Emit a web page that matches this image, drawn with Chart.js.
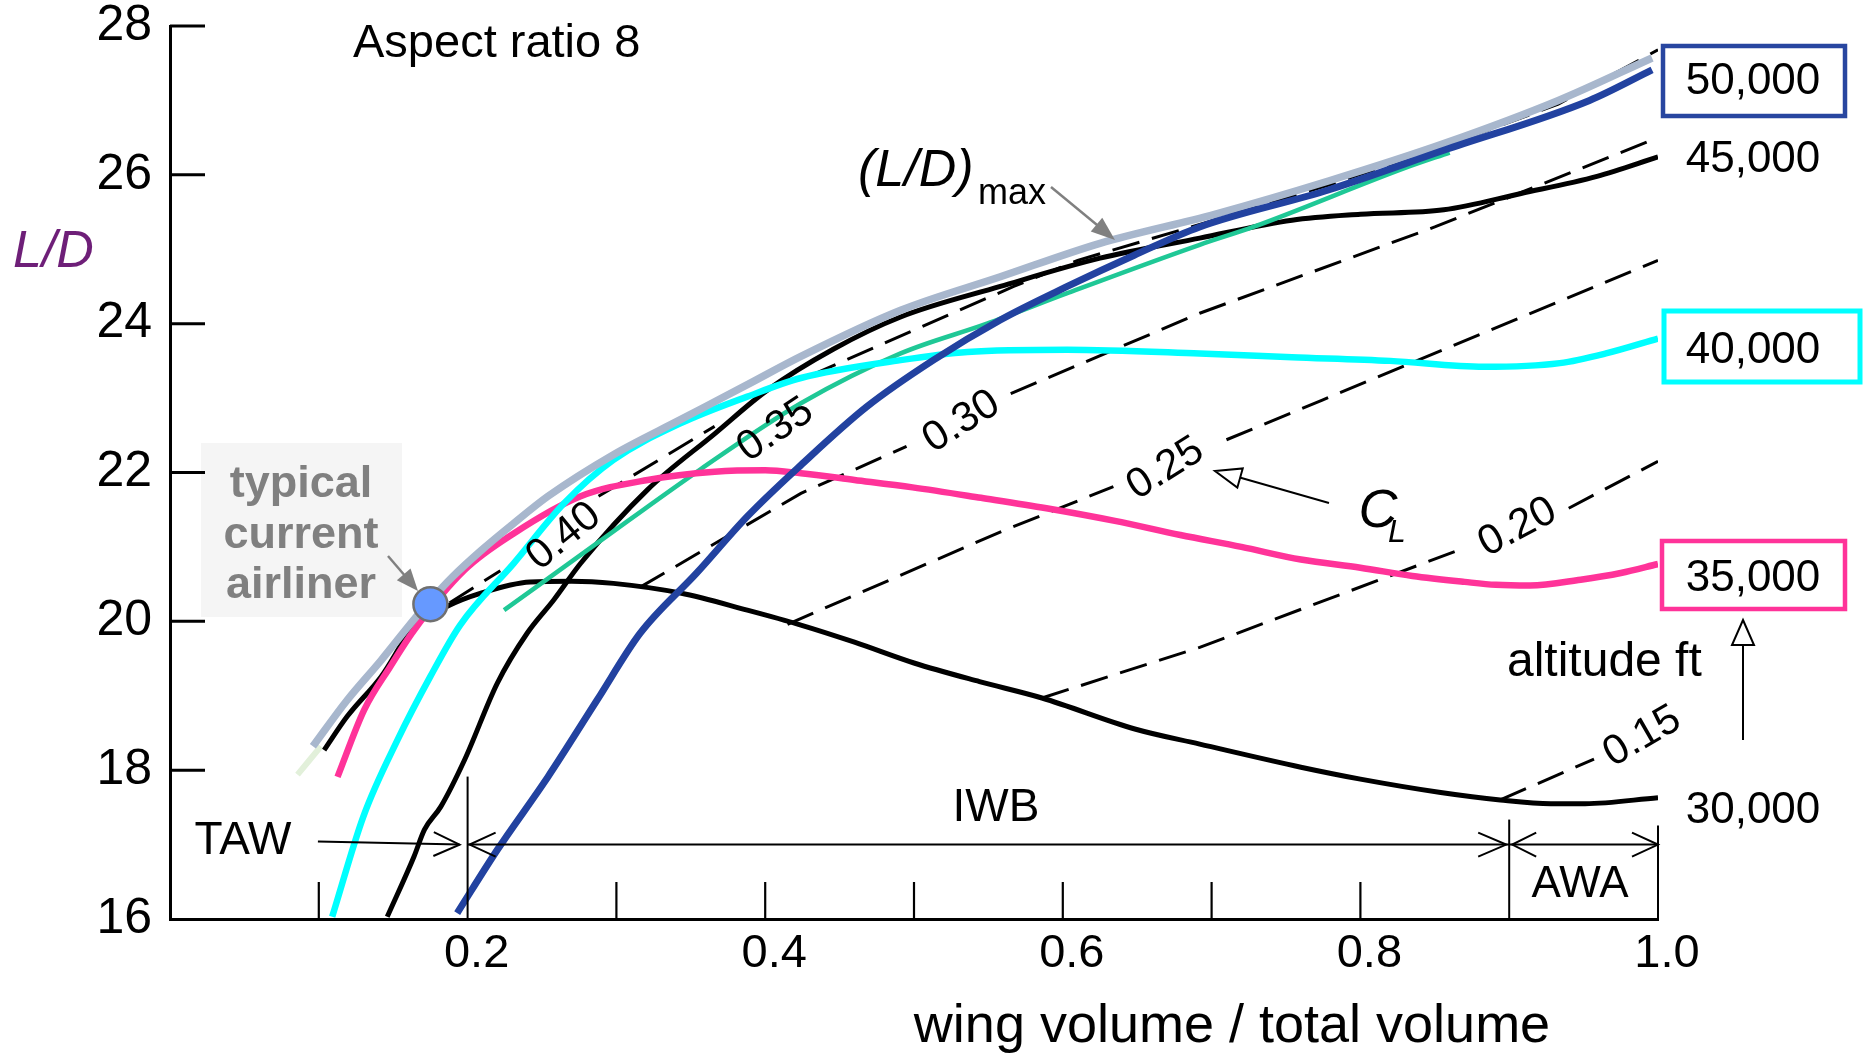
<!DOCTYPE html>
<html>
<head>
<meta charset="utf-8">
<script src="https://cdn.jsdelivr.net/npm/chart.js@4.4.1/dist/chart.umd.min.js"></script>
<style>
  html, body { margin: 0; padding: 0; background: #fff; }
  canvas { display: block; }
</style>
</head>
<body>
<canvas id="ldChart" width="1864" height="1057"></canvas>
<script>
/* --------------- Data (x = wing volume / total volume, y = L/D) --------------- */
const envX = [0.096, 0.119, 0.142, 0.165, 0.175, 0.19, 0.209, 0.23, 0.254, 0.298, 0.343, 0.388, 0.424, 0.491, 0.558, 0.625, 0.702, 0.779, 0.856, 0.933, 0.996];
const envY = [18.32, 18.94, 19.48, 20.05, 20.28, 20.6, 20.95, 21.3, 21.68, 22.24, 22.71, 23.18, 23.56, 24.18, 24.63, 25.08, 25.47, 25.92, 26.42, 27.0, 27.57];

const tailX = [0.0857, 0.1014];
const tailY = [17.94, 18.32];

const alt30X = [0.1036, 0.119, 0.142, 0.164, 0.186, 0.209, 0.242, 0.27, 0.298, 0.343, 0.388, 0.424, 0.46, 0.5, 0.544, 0.586, 0.649, 0.692, 0.76, 0.8, 0.854, 0.894, 0.928, 0.951, 1.0];
const alt30Y = [18.27, 18.72, 19.26, 19.93, 20.2, 20.38, 20.53, 20.54, 20.51, 20.38, 20.15, 19.95, 19.72, 19.44, 19.19, 18.97, 18.55, 18.35, 18.04, 17.88, 17.7, 17.6, 17.55, 17.55, 17.63];

const alt35X = [0.1126, 0.1305, 0.148, 0.164, 0.198, 0.231, 0.276, 0.321, 0.366, 0.4, 0.424, 0.46, 0.499, 0.545, 0.589, 0.635, 0.679, 0.72, 0.76, 0.8, 0.835, 0.87, 0.891, 0.914, 0.948, 0.975, 1.0];
const alt35Y = [17.91, 18.81, 19.39, 19.88, 20.69, 21.18, 21.68, 21.9, 22.01, 22.03, 21.99, 21.9, 21.8, 21.66, 21.52, 21.35, 21.16, 21.0, 20.83, 20.72, 20.61, 20.53, 20.49, 20.48, 20.56, 20.65, 20.77];

const alt40X = [0.109, 0.13, 0.153, 0.175, 0.195, 0.231, 0.265, 0.298, 0.343, 0.388, 0.424, 0.491, 0.536, 0.603, 0.692, 0.754, 0.82, 0.883, 0.934, 0.965, 1.0];
const alt40Y = [16.03, 17.38, 18.41, 19.26, 19.95, 20.78, 21.59, 22.17, 22.66, 23.02, 23.27, 23.51, 23.62, 23.65, 23.6, 23.55, 23.5, 23.42, 23.47, 23.6, 23.8];

const alt45X = [0.146, 0.164, 0.171, 0.182, 0.198, 0.22, 0.24, 0.258, 0.276, 0.321, 0.366, 0.401, 0.446, 0.491, 0.558, 0.625, 0.692, 0.754, 0.8, 0.856, 0.908, 0.959, 1.0];
const alt45Y = [16.03, 16.84, 17.2, 17.51, 18.14, 19.17, 19.84, 20.29, 20.78, 21.77, 22.52, 23.1, 23.66, 24.09, 24.5, 24.88, 25.15, 25.39, 25.47, 25.53, 25.75, 25.98, 26.24];

const alt50X = [0.193, 0.22, 0.254, 0.287, 0.316, 0.354, 0.388, 0.424, 0.468, 0.513, 0.558, 0.603, 0.648, 0.692, 0.779, 0.856, 0.954, 0.996];
const alt50Y = [16.08, 16.93, 17.91, 18.94, 19.84, 20.65, 21.41, 22.1, 22.88, 23.51, 24.05, 24.5, 24.92, 25.3, 25.8, 26.33, 27.0, 27.41];

const greenX = [0.2245, 0.287, 0.357, 0.424, 0.491, 0.549, 0.603, 0.692, 0.728, 0.831, 0.86];
const greenY = [20.15, 21.05, 22.05, 22.93, 23.6, 24.0, 24.41, 25.06, 25.3, 26.1, 26.3];

// constant C_L lines (null = gap left for the label)
const cl40X = [0.188, 0.222, 0.25, 0.288, 0.366];
const cl40Y = [20.25, 20.68, null, 21.68, 22.62];
const cl35X = [0.43, 0.567, 0.61, 0.7, 0.78, 0.856, 0.933, 1.0];
const cl35Y = [23.3, 24.5, 24.85, 25.38, 25.87, 26.38, 26.95, 27.68];
const cl30X = [0.316, 0.424, 0.495, 0.53, 0.565, 0.692, 0.85, 1.0];
const cl30Y = [20.46, 21.72, 22.35, null, 23.06, 24.14, 25.3, 26.5];
const cl25X = [0.415, 0.559, 0.634, 0.67, 0.71, 0.774, 1.0];
const cl25Y = [19.96, 21.21, 21.81, null, 22.44, 22.97, 24.85];
const cl20X = [0.586, 0.692, 0.869, 0.9, 0.94, 1.0];
const cl20Y = [18.97, 19.65, 20.98, null, 21.52, 22.15];
const cl15X = [0.894, 0.957];
const cl15Y = [17.6, 18.15];

const airlinerX = [0.175];
const airlinerY = [20.23];

const clLabels = ["0.40", "0.35", "0.30", "0.25", "0.20", "0.15"];
const clLabelX = [0.2647, 0.407, 0.532, 0.669, 0.9057, 0.9895];
const clLabelY = [21.14, 22.57, 22.68, 22.05, 21.26, 18.45];
const clLabelAngle = [39, 34, 32, 32, 28, 30];

/* --------------- Helpers --------------- */
const FONT = "'Liberation Sans', Arial, sans-serif";
const pts = (xs, ys) => xs.map((x, i) => ({ x: x, y: ys[i] }));

const curve = (xs, ys, color, width, order) => ({
  data: pts(xs, ys),
  borderColor: color,
  borderWidth: width,
  cubicInterpolationMode: "monotone",
  pointRadius: 0,
  fill: false,
  order: order,
});

const dashed = (xs, ys) => ({
  data: pts(xs, ys),
  borderColor: "#000",
  borderWidth: 3,
  borderDash: [28, 13],
  tension: 0,
  spanGaps: false,
  pointRadius: 0,
  fill: false,
  order: 20,
});

function line(c, x1, y1, x2, y2) {
  c.beginPath();
  c.moveTo(x1, y1);
  c.lineTo(x2, y2);
  c.stroke();
}

// arrow head at (x2,y2) pointing away from (x1,y1)
function head(c, x1, y1, x2, y2, len, half, mode) {
  const a = Math.atan2(y2 - y1, x2 - x1);
  const bx = x2 - len * Math.cos(a), by = y2 - len * Math.sin(a);
  const px = -Math.sin(a) * half, py = Math.cos(a) * half;
  c.beginPath();
  if (mode === "open") {
    c.moveTo(bx + px, by + py);
    c.lineTo(x2, y2);
    c.lineTo(bx - px, by - py);
    c.stroke();
    return;
  }
  c.moveTo(x2, y2);
  c.lineTo(bx + px, by + py);
  c.lineTo(bx - px, by - py);
  c.closePath();
  if (mode === "hollow") {
    c.fillStyle = "#fff";
    c.fill();
    c.stroke();
  } else {
    c.fill();
  }
}

function text(c, str, x, y, font, color, align) {
  c.font = font;
  c.fillStyle = color || "#000";
  c.textAlign = align || "left";
  c.textBaseline = "alphabetic";
  c.fillText(str, x, y);
}

/* --------------- Annotations --------------- */
const annotate = {
  id: "annotate",
  beforeDatasetsDraw(chart) {
    const c = chart.ctx;
    c.save();
    c.fillStyle = "#f5f5f5";
    c.fillRect(201, 443, 201, 174);
    c.restore();
  },
  afterDraw(chart) {
    const c = chart.ctx;
    const X = v => chart.scales.x.getPixelForValue(v);
    const Y = v => chart.scales.y.getPixelForValue(v);
    const x0 = X(0), yb = Y(16);
    c.save();
    c.strokeStyle = "#000";
    c.lineCap = "butt";

    // inside ticks on the L/D axis
    c.lineWidth = 3;
    [18, 20, 22, 24, 26, 28].forEach(v => line(c, x0, Y(v), x0 + 35, Y(v)));

    // inside ticks on the volume axis
    c.lineWidth = 2.2;
    [0.1, 0.3, 0.4, 0.5, 0.6, 0.7, 0.8].forEach(v => line(c, X(v), yb, X(v), yb - 37));

    // TAW / IWB / AWA dimension lines
    const yd = Y(17);
    c.lineWidth = 2;
    line(c, X(0.2), yb, X(0.2), yd - 68);
    line(c, X(0.9), yb, X(0.9), yd - 25);
    line(c, X(1.0), yb, X(1.0), yd - 19);
    line(c, X(0.0994), yd - 3, X(0.2) - 8, yd);
    head(c, X(0.0994), yd - 3, X(0.2) - 8, yd, 26, 12, "open");
    line(c, X(0.2), yd, X(0.9), yd);
    head(c, X(0.9), yd, X(0.2) + 2, yd, 26, 12, "open");
    head(c, X(0.2), yd, X(0.9) - 3, yd, 28, 12, "open");
    line(c, X(0.9), yd, X(1.0), yd);
    head(c, X(1.0), yd, X(0.9) + 3, yd, 24, 12, "open");
    head(c, X(0.9), yd, X(1.0), yd, 26, 12, "open");

    // constant C_L labels
    clLabels.forEach((s, i) => {
      c.save();
      c.translate(X(clLabelX[i]), Y(clLabelY[i]));
      c.rotate(-clLabelAngle[i] * Math.PI / 180);
      c.font = "42px " + FONT;
      c.fillStyle = "#000";
      c.textAlign = "center";
      c.textBaseline = "middle";
      c.fillText(s, 0, 0);
      c.restore();
    });

    // titles and labels
    text(c, "Aspect ratio 8", 353, 57, "47px " + FONT);
    text(c, "L/D", 13, 267, "italic 52px " + FONT, "#6e1f78");
    text(c, "wing volume / total volume", 1232, 1042, "54px " + FONT, "#000", "center");
    text(c, "(L/D)", 858, 186, "italic 52px " + FONT);
    text(c, "max", 978, 204, "36px " + FONT);
    text(c, "TAW", 243, 854, "46px " + FONT, "#000", "center");
    text(c, "IWB", 996, 821, "46px " + FONT, "#000", "center");
    text(c, "AWA", 1580, 897, "44px " + FONT, "#000", "center");
    text(c, "altitude ft", 1507, 676, "48px " + FONT);
    text(c, "C", 1378, 527, "italic 54px " + FONT, "#000", "center");
    text(c, "L", 1388, 542, "italic 32px " + FONT);

    // typical current airliner
    ["typical", "current", "airliner"].forEach((s, i) =>
      text(c, s, 301, 497 + i * 50.5, "bold 45px " + FONT, "#808080", "center"));

    // altitude labels and boxes
    text(c, "50,000", 1753, 94, "44px " + FONT, "#000", "center");
    text(c, "45,000", 1753, 172, "44px " + FONT, "#000", "center");
    text(c, "40,000", 1753, 363, "44px " + FONT, "#000", "center");
    text(c, "35,000", 1753, 591, "44px " + FONT, "#000", "center");
    text(c, "30,000", 1753, 823, "44px " + FONT, "#000", "center");
    c.lineWidth = 4.5;
    c.strokeStyle = "#2846a0";
    c.strokeRect(1663, 46, 182, 70);
    c.lineWidth = 5;
    c.strokeStyle = "#00ffff";
    c.strokeRect(1664, 311, 196, 71);
    c.lineWidth = 4.5;
    c.strokeStyle = "#ff3399";
    c.strokeRect(1662, 541, 183, 68);

    // gray pointer arrows
    c.strokeStyle = "#808080";
    c.fillStyle = "#808080";
    c.lineWidth = 2.5;
    line(c, 1051, 187, 1108, 234);
    head(c, 1051, 187, 1115, 240, 24, 9, "filled");
    c.fillStyle = "#808080";
    line(c, 388, 556, 412, 584);
    head(c, 388, 556, 418, 591, 22, 9, "filled");

    // C_L and altitude arrows (hollow heads)
    c.strokeStyle = "#000";
    c.lineWidth = 2;
    line(c, 1329, 503, 1238, 477);
    head(c, 1329, 503, 1215, 471, 26, 10, "hollow");
    line(c, 1743, 740, 1743, 644);
    head(c, 1743, 740, 1743, 620, 25, 11, "hollow");

    c.restore();
  },
};

/* --------------- Chart --------------- */
const ctx = document.getElementById("ldChart");

new Chart(ctx, {
  type: "line",
  data: {
    datasets: [
      {
        data: pts(airlinerX, airlinerY),
        showLine: false,
        pointRadius: 17,
        pointBackgroundColor: "#6699ff",
        pointBorderColor: "#707070",
        pointBorderWidth: 2.5,
        order: 0,
      },
      curve(alt50X, alt50Y, "#2242a0", 7, 1),
      curve(envX, envY, "#a8b7cd", 7.5, 2),
      curve(alt40X, alt40Y, "#00ffff", 6.5, 3),
      curve(alt35X, alt35Y, "#ff3399", 6.5, 4),
      curve(greenX, greenY, "#1fc896", 4.5, 5),
      curve(alt45X, alt45Y, "#000", 5, 6),
      curve(alt30X, alt30Y, "#000", 5, 7),
      curve(tailX, tailY, "#e2f0da", 6, 8),
      dashed(cl40X, cl40Y),
      dashed(cl35X, cl35Y),
      dashed(cl30X, cl30Y),
      dashed(cl25X, cl25Y),
      dashed(cl20X, cl20Y),
      dashed(cl15X, cl15Y),
    ],
  },
  options: {
    responsive: false,
    animation: false,
    devicePixelRatio: 1,
    layout: { padding: { top: 26, right: 206, left: 0, bottom: 0 } },
    plugins: {
      legend: { display: false },
      tooltip: { enabled: false },
    },
    scales: {
      x: {
        type: "linear",
        min: 0,
        max: 1,
        afterFit: s => {
          s.height = 138;
          s.paddingLeft = 0;
          s.paddingRight = 0;
        },
        grid: { display: false, drawTicks: false },
        border: { display: true, color: "#000", width: 3 },
        ticks: {
          stepSize: 0.2,
          autoSkip: false,
          maxRotation: 0,
          padding: 12,
          labelOffset: 9,
          color: "#000",
          font: { family: FONT, size: 47, lineHeight: 1 },
          callback: v => (v === 0 ? "" : v.toFixed(1)),
        },
      },
      y: {
        type: "linear",
        min: 16,
        max: 28,
        afterFit: s => {
          s.width = 170;
          s.paddingTop = 0;
          s.paddingBottom = 0;
        },
        grid: { display: false, drawTicks: false },
        border: { display: true, color: "#000", width: 3 },
        ticks: {
          stepSize: 2,
          padding: 18,
          color: "#000",
          font: { family: FONT, size: 50, lineHeight: 1 },
        },
      },
    },
  },
  plugins: [annotate],
});
</script>
</body>
</html>
